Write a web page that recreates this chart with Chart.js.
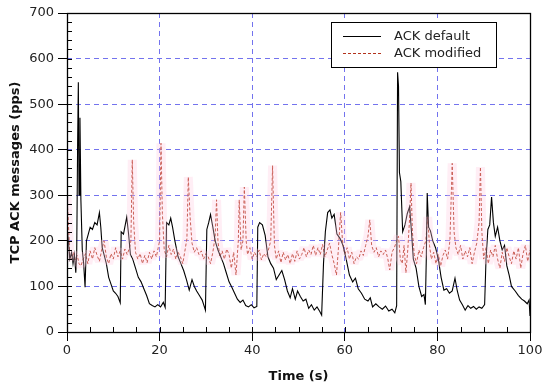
<!DOCTYPE html>
<html>
<head>
<meta charset="utf-8">
<script src="https://cdn.jsdelivr.net/npm/chart.js@4.4.0/dist/chart.umd.min.js"></script>
<style>
  body { margin: 0; background: #fff; }
  #wrap { width: 550px; height: 387px; }
</style>
</head>
<body>
<div id="wrap"><canvas id="myChart" width="550" height="387"></canvas></div>
<script>
// ------ data ------------
var defaultTime = [0, 0.3, 0.6, 1.0, 1.3, 1.6, 1.9, 2.1, 2.3, 2.45, 2.6, 2.8, 3.0, 3.3, 3.6, 3.9, 4.2, 4.6, 5.0, 5.5,
  6.0, 6.5, 7.0, 7.3, 7.6, 8.0, 8.5, 9.0, 9.5, 10.0, 10.5, 11.0, 11.5, 11.7, 12.2, 12.9, 13.3, 13.7, 14.2, 14.8,
  15.4, 16.0, 16.6, 17.2, 17.8, 18.4, 19.0, 19.6, 20.2, 20.8, 21.2, 21.5, 22.0, 22.4, 22.8, 23.3, 24.0, 24.6, 25.2, 25.8,
  26.4, 27.0, 27.5, 28.0, 28.6, 29.2, 29.9, 30.2, 30.6, 31.0, 31.5, 32.0, 32.6, 33.2, 33.8, 34.4, 35.0, 35.6, 36.2, 36.8,
  37.4, 38.0, 38.6, 39.2, 39.8, 40.4, 41.0, 41.2, 41.6, 42.2, 42.8, 43.4, 44.0, 44.6, 45.2, 45.8, 46.4, 47.0, 47.6, 48.2,
  48.7, 49.3, 49.8, 50.4, 51.0, 51.6, 52.2, 52.8, 53.4, 54.0, 54.6, 55.0, 55.4, 55.8, 56.3, 56.8, 57.2, 57.7, 58.3, 59.0,
  59.6, 60.3, 61.0, 61.7, 62.3, 62.9, 63.6, 64.3, 65.0, 65.5, 66.0, 66.7, 67.4, 68.1, 68.8, 69.5, 70.2, 70.8, 71.2, 71.4,
  71.6, 71.8, 72.1, 72.5, 73.0, 73.5, 74.0, 74.4, 74.8, 75.4, 76.0, 76.6, 77.1, 77.4, 77.6, 77.8, 78.1, 78.5, 79.0, 79.6,
  80.2, 80.8, 81.4, 82.0, 82.6, 83.2, 83.8, 84.3, 84.8, 85.4, 86.0, 86.6, 87.2, 87.8, 88.4, 89.0, 89.6, 90.2, 90.5, 90.9,
  91.3, 91.7, 92.1, 92.5, 93.0, 93.5, 94.0, 94.5, 95.0, 95.5, 96.0, 96.8, 97.5, 98.2, 98.8, 99.4, 99.8, 100];
var defaultAck = [230, 200, 160, 175, 150, 170, 130, 175, 420, 548, 300, 470, 290, 180, 150, 98, 200, 215, 230, 225,
  240, 235, 262, 230, 185, 170, 150, 120, 105, 90, 85, 78, 64, 220, 215, 252, 215, 170, 160, 140,
  120, 110, 95, 80, 62, 58, 55, 60, 55, 65, 54, 240, 235, 250, 230, 200, 165, 150, 135, 115,
  92, 115, 100, 90, 80, 70, 48, 225, 240, 258, 230, 200, 180, 165, 150, 130, 110, 98, 85, 72,
  65, 70, 58, 55, 60, 53, 56, 230, 240, 235, 212, 165, 150, 140, 115, 125, 135, 115, 90, 75,
  95, 72, 90, 78, 68, 72, 52, 60, 48, 55, 45, 37, 150, 220, 262, 268, 250, 258, 215, 205,
  190, 160, 125, 110, 118, 95, 85, 72, 68, 75, 55, 62, 55, 50, 57, 46, 50, 42, 58, 570,
  540, 350, 330, 220, 235, 260, 275, 220, 160, 140, 100, 78, 82, 60, 160, 305, 230, 222, 200, 185,
  160, 120, 92, 95, 85, 90, 118, 90, 70, 60, 48, 58, 52, 56, 50, 55, 52, 60, 160, 225,
  235, 296, 240, 210, 230, 200, 180, 190, 145, 125, 100, 90, 80, 72, 68, 62, 70, 35];

var modifiedTime = [0, 0.3, 0.6, 1.0, 1.4, 1.8, 2.2, 2.6, 3.0, 3.5, 4.0, 4.5, 5.0, 5.5, 6.0, 6.5, 7.0, 7.5, 8.0, 8.5,
  9.0, 9.5, 10.0, 10.5, 11.0, 11.5, 12.0, 12.5, 13.0, 13.5, 13.8, 14.1, 14.4, 14.8, 15.3, 15.8, 16.3, 16.8, 17.3, 17.8,
  18.3, 18.8, 19.3, 19.7, 20.0, 20.3, 20.6, 21.0, 21.5, 22.0, 22.5, 23.0, 23.5, 24.0, 24.5, 25.0, 25.5, 25.9, 26.2, 26.6,
  27.0, 27.5, 28.0, 28.5, 29.0, 29.5, 30.0, 30.5, 31.0, 31.5, 32.0, 32.3, 32.6, 33.0, 33.5, 34.0, 34.5, 35.0, 35.5, 36.0,
  36.5, 37.0, 37.2, 37.6, 38.0, 38.3, 38.7, 39.0, 39.5, 40.0, 40.5, 41.0, 41.5, 42.0, 42.5, 43.0, 43.5, 44.0, 44.4, 44.8,
  45.2, 45.7, 46.2, 46.7, 47.2, 47.7, 48.2, 48.7, 49.2, 49.7, 50.2, 50.7, 51.2, 51.7, 52.2, 52.7, 53.2, 53.7, 54.2, 54.7,
  55.2, 55.7, 56.2, 56.7, 57.2, 57.7, 58.2, 58.6, 59.1, 59.5, 60.0, 60.5, 61.0, 61.5, 62.0, 62.5, 63.0, 63.5, 64.0, 64.5,
  65.0, 65.4, 65.8, 66.3, 66.8, 67.3, 67.8, 68.3, 68.8, 69.3, 69.7, 70.2, 70.7, 71.2, 71.6, 72.0, 72.4, 72.8, 73.2, 73.6,
  74.0, 74.3, 74.6, 75.0, 75.5, 76.0, 76.5, 77.0, 77.5, 77.9, 78.3, 78.7, 79.2, 79.7, 80.2, 80.7, 81.2, 81.7, 82.2, 82.7,
  83.2, 83.6, 84.0, 84.5, 85.0, 85.5, 86.0, 86.5, 87.0, 87.5, 88.0, 88.5, 89.0, 89.3, 89.6, 90.0, 90.5, 91.0, 91.5, 92.0,
  92.5, 93.0, 93.5, 94.0, 94.5, 95.0, 95.5, 96.0, 96.5, 97.0, 97.5, 98.0, 98.5, 99.0, 99.5, 100];
var modifiedAck = [296, 240, 165, 160, 175, 158, 168, 150, 145, 160, 172, 150, 178, 160, 185, 168, 155, 180, 200, 165,
  150, 172, 160, 185, 165, 178, 160, 182, 170, 185, 200, 378, 240, 175, 160, 172, 150, 168, 152, 175,
  160, 178, 165, 185, 200, 414, 260, 180, 165, 190, 170, 182, 160, 175, 165, 150, 180, 205, 340, 250,
  195, 175, 185, 170, 178, 160, 172, 165, 150, 175, 210, 290, 200, 165, 178, 160, 182, 170, 140, 175,
  125, 200, 290, 180, 200, 318, 200, 170, 185, 160, 175, 165, 180, 158, 172, 165, 180, 200, 365, 190,
  160, 178, 152, 175, 158, 170, 150, 172, 155, 178, 160, 170, 185, 165, 180, 170, 190, 168, 185, 170,
  192, 165, 180, 195, 170, 150, 125, 180, 262, 200, 170, 185, 160, 175, 150, 165, 160, 178, 168, 190,
  210, 246, 190, 175, 185, 165, 178, 170, 180, 160, 136, 175, 185, 200, 210, 160, 150, 190, 130, 180,
  250, 327, 220, 170, 150, 180, 165, 185, 200, 252, 190, 160, 175, 150, 170, 145, 168, 180, 160, 200,
  370, 220, 185, 170, 190, 160, 178, 165, 185, 150, 175, 195, 240, 362, 220, 160, 185, 150, 180, 165,
  190, 160, 140, 175, 155, 185, 165, 150, 178, 160, 185, 140, 172, 190, 155, 180];

var xTicks = [0, 20, 40, 60, 80, 100];
var yTicks = [0, 100, 200, 300, 400, 500, 600, 700];
var seriesNames = ['ACK default', 'ACK modified'];

function toPoints(xs, ys) {
  return xs.map(function (x, i) { return { x: x, y: ys[i] }; });
}

// ------ plugins ------------
// frame + inward minor ticks
var frameTicks = {
  id: 'frameTicks',
  afterDatasetsDraw: function (chart) {
    var ctx = chart.ctx, a = chart.chartArea;
    var xs = chart.scales.x, ys = chart.scales.y;
    ctx.save();
    ctx.strokeStyle = '#000';
    ctx.lineWidth = 1;
    ctx.setLineDash([]);
    ctx.beginPath();
    for (var t = 0; t <= 100; t += 5) {
      var px = Math.round(xs.getPixelForValue(t)) + 0.5;
      ctx.moveTo(px, a.bottom);
      ctx.lineTo(px, a.bottom - 5);
    }
    for (var v = 0; v <= 700; v += 20) {
      var py = Math.round(ys.getPixelForValue(v)) + 0.5;
      ctx.moveTo(a.left, py);
      ctx.lineTo(a.left + 5, py);
    }
    ctx.stroke();
    ctx.lineWidth = 1.3;
    ctx.strokeRect(Math.round(a.left) + 0.5, Math.round(a.top) + 0.5,
      Math.round(a.right - a.left), Math.round(a.bottom - a.top));
    ctx.restore();
  }
};

// legend box in the upper right
var boxLegend = {
  id: 'boxLegend',
  afterDraw: function (chart) {
    var ctx = chart.ctx;
    var sets = chart.data.datasets.filter(function (d) { return d.inLegend; });
    ctx.save();
    ctx.fillStyle = '#fff';
    ctx.fillRect(331.5, 22.5, 165, 45);
    ctx.strokeStyle = '#000';
    ctx.lineWidth = 1;
    ctx.strokeRect(331.5, 22.5, 165, 45);
    ctx.font = '13px "DejaVu Sans"';
    ctx.textBaseline = 'middle';
    sets.forEach(function (d, i) {
      var y = 36 + i * 17;
      ctx.strokeStyle = d.borderColor;
      ctx.lineWidth = d.borderWidth;
      ctx.setLineDash(d.borderDash || []);
      ctx.beginPath();
      ctx.moveTo(343, y + 0.5);
      ctx.lineTo(381, y + 0.5);
      ctx.stroke();
      ctx.fillStyle = '#222';
      ctx.fillText(d.label, 394, y + 1);
    });
    ctx.restore();
  }
};

var myChart = new Chart('myChart', {
  type: 'line',
  data: {
    datasets: [{
      label: 'band',
      data: toPoints(modifiedTime, modifiedAck),
      borderColor: 'rgba(255, 200, 222, 0.3)',
      borderWidth: 9,
      borderJoinStyle: 'bevel',
      borderCapStyle: 'butt',
      pointRadius: 0,
      tension: 0,
      inLegend: false
    }, {
      label: seriesNames[0],
      data: toPoints(defaultTime, defaultAck),
      borderColor: '#000',
      borderWidth: 1.1,
      pointRadius: 0,
      tension: 0,
      inLegend: true
    }, {
      label: seriesNames[1],
      data: toPoints(modifiedTime, modifiedAck),
      borderColor: '#b3321c',
      borderWidth: 1,
      borderDash: [3, 2],
      pointRadius: 0,
      tension: 0,
      inLegend: true
    }]
  },
  options: {
    responsive: false,
    animation: false,
    devicePixelRatio: 1,
    layout: { padding: { left: 0, right: 20, top: 13, bottom: 0 } },
    plugins: { legend: { display: false }, tooltip: { enabled: false } },
    scales: {
      x: {
        type: 'linear',
        min: 0,
        max: 100,
        afterBuildTicks: function (s) { s.ticks = xTicks.map(function (v) { return { value: v }; }); },
        afterFit: function (s) { s.height = 55; },
        ticks: { color: '#222', font: { family: 'DejaVu Sans', size: 13 }, padding: 2, maxRotation: 0 },
        grid: {
          color: '#7373ee', lineWidth: 1,
          tickColor: '#000', tickBorderDash: [], tickLength: 9, tickWidth: 1
        },
        border: { display: false, dash: [5, 4] },
        title: {
          display: true, text: 'Time (s)', color: '#111',
          font: { family: 'DejaVu Sans', size: 13, weight: 'bold' }, padding: { top: 0, bottom: 3 }
        }
      },
      y: {
        min: 0,
        max: 700,
        afterBuildTicks: function (s) { s.ticks = yTicks.map(function (v) { return { value: v }; }); },
        afterFit: function (s) { s.width = 67; },
        ticks: { color: '#222', font: { family: 'DejaVu Sans', size: 13 }, padding: 4 },
        grid: {
          color: '#7373ee', lineWidth: 1,
          tickColor: '#000', tickBorderDash: [], tickLength: 9, tickWidth: 1
        },
        border: { display: false, dash: [5, 4] },
        title: {
          display: true, text: 'TCP ACK messages (pps)', color: '#111',
          font: { family: 'DejaVu Sans', size: 13, weight: 'bold' }, padding: { top: 8, bottom: 0 }
        }
      }
    }
  },
  plugins: [frameTicks, boxLegend]
});
</script>
</body>
</html>
